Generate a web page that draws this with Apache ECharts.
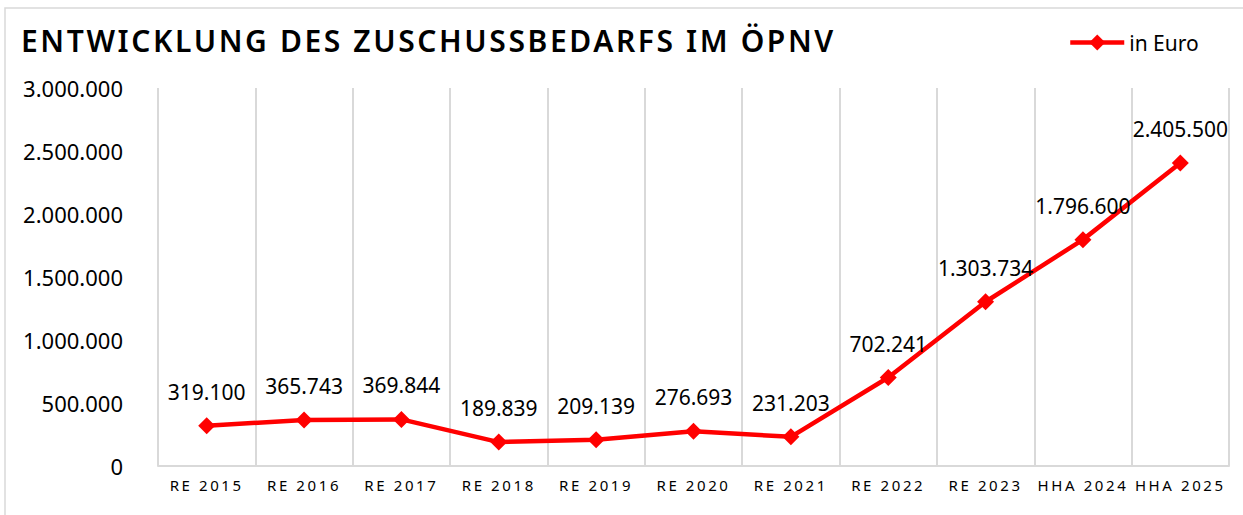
<!DOCTYPE html>
<html>
<head>
<meta charset="utf-8">
<script src="https://cdn.jsdelivr.net/npm/echarts@6/dist/echarts.min.js"></script>
<style>
  html, body { margin: 0; padding: 0; background: #fff; }
  #chart { width: 1243px; height: 515px; }
</style>
</head>
<body>
<div id="chart"></div>
<script>
const categories = ['RE 2015', 'RE 2016', 'RE 2017', 'RE 2018', 'RE 2019', 'RE 2020', 'RE 2021', 'RE 2022', 'RE 2023', 'HHA 2024', 'HHA 2025']
const zuschuss = [319100, 365743, 369844, 189839, 209139, 276693, 231203, 702241, 1303734, 1796600, 2405500]
const titleText = 'ENTWICKLUNG DES ZUSCHUSSBEDARFS IM ÖPNV'
const seriesName = 'in Euro'

// german thousands separator
const fmt = v => String(Math.round(v)).replace(/\B(?=(\d{3})+(?!\d))/g, '.')

const myChart = echarts.init(document.getElementById('chart'), null, { renderer: 'svg' })
myChart.setOption({
  backgroundColor: '#fff',
  animation: false,
  title: {
    text: titleText,
    left: 16,
    top: 20,
    textStyle: {
      fontFamily: 'Noto Sans',
      fontSize: 30,
      fontWeight: 600,
      color: '#000'
    }
  },
  legend: {
    data: [seriesName],
    left: 1063,
    top: 27,
    itemWidth: 54,
    itemHeight: 20,
    itemGap: 5,
    lineStyle: { width: 4.5 },
    textStyle: {
      fontFamily: 'Noto Sans',
      fontSize: 21,
      color: '#000'
    }
  },
  graphic: [{
    // thin frame of the original chart box
    type: 'rect',
    shape: { x: 5, y: 8, width: 1260, height: 540 },
    style: { fill: 'none', stroke: '#d9d9d9', lineWidth: 1.5 },
    silent: true
  }],
  grid: {
    left: 158,
    right: 14,
    top: 88,
    bottom: 49
  },
  xAxis: {
    type: 'category',
    data: categories,
    boundaryGap: true,
    axisLine: { show: true, lineStyle: { color: '#d9d9d9', width: 2 } },
    axisTick: { show: false },
    splitLine: { show: true, lineStyle: { color: '#d9d9d9', width: 2 } },
    axisLabel: {
      margin: 11,
      fontFamily: 'Noto Sans',
      fontSize: 15,
      color: '#000',
      interval: 0
    }
  },
  yAxis: {
    type: 'value',
    min: 0,
    max: 3000000,
    interval: 500000,
    axisLine: { show: false },
    axisTick: { show: false },
    splitLine: { show: false },
    axisLabel: {
      margin: 35,
      fontFamily: 'Noto Sans',
      fontSize: 22,
      color: '#000',
      formatter: v => fmt(v)
    }
  },
  series: [{
    name: seriesName,
    type: 'line',
    data: zuschuss,
    symbol: 'diamond',
    symbolSize: 17,
    lineStyle: { color: '#ff0000', width: 4.5 },
    itemStyle: { color: '#ff0000' },
    label: {
      show: true,
      position: 'top',
      distance: 15,
      fontFamily: 'Noto Sans',
      fontSize: 21,
      color: '#000',
      formatter: p => fmt(p.value)
    }
  }]
})

// spaced-out lettering for title and category labels
function spaceLetters() {
  document.querySelectorAll('#chart svg text').forEach(t => {
    const s = t.textContent
    if (s === titleText) t.style.letterSpacing = '2.6px'
    else if (categories.includes(s)) t.style.letterSpacing = '2.6px'
  })
}
myChart.on('finished', spaceLetters)
spaceLetters()
window.addEventListener('resize', () => { myChart.resize() })
</script>
</body>
</html>
